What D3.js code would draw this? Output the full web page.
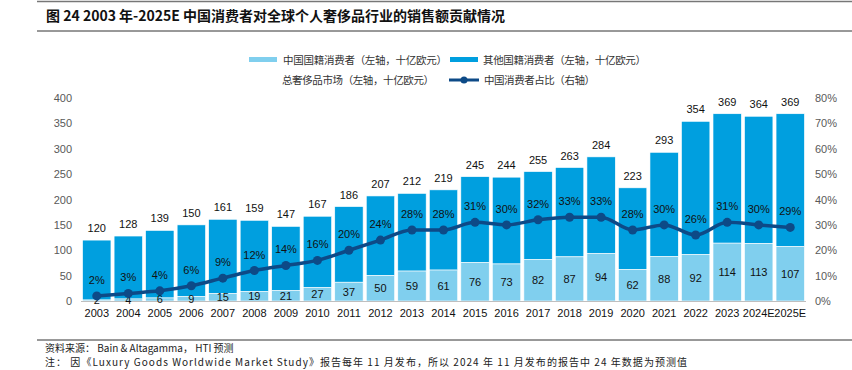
<!DOCTYPE html>
<html>
<head>
<meta charset="utf-8">
<script src="https://cdn.jsdelivr.net/npm/d3@7"></script>
<style>
  body { margin: 0; background: #fff; }
  svg { display: block; }
</style>
</head>
<body>
<svg id="chart" width="852" height="370"></svg>
<script>
// donnees
const annees = ["2003","2004","2005","2006","2007","2008","2009","2010","2011","2012","2013","2014","2015","2016","2017","2018","2019","2020","2021","2022","2023","2024E","2025E"];
const chinois = [2,4,6,9,15,19,21,27,37,50,59,61,76,73,82,87,94,62,88,92,114,113,107];
const total = [120,128,139,150,161,159,147,167,186,207,212,219,245,244,255,263,284,223,293,354,369,364,369];
const partChine = [2,3,4,6,9,12,14,16,20,24,28,28,31,30,32,33,33,28,30,26,31,30,29];
const ticksGauche = [0,50,100,150,200,250,300,350,400];
const ticksDroite = [0,10,20,30,40,50,60,70,80];

const C_CHINE = "#80CFEE", C_AUTRE = "#009FDF", C_LIGNE = "#0D4A87";
const FONT = "'Liberation Sans', Arial, sans-serif";
const FONT_CN = "'Noto Sans CJK SC', sans-serif";

const svg = d3.select("#chart");

// titre + filets
svg.append("line").attr("x1",37).attr("x2",852).attr("y1",1.5).attr("y2",1.5).attr("stroke","#777").attr("stroke-width",1.5);
svg.append("line").attr("x1",37).attr("x2",852).attr("y1",31).attr("y2",31).attr("stroke","#333").attr("stroke-width",1);
svg.append("text").attr("x",46).attr("y",21)
  .attr("font-family",FONT_CN).attr("font-weight","bold").attr("font-size",14).attr("fill","#111")
  .text("图 24 2003 年-2025E 中国消费者对全球个人奢侈品行业的销售额贡献情况");

// echelles
const x = d3.scaleBand().domain(annees).range([81, 806]).paddingInner(0.1).paddingOuter(0.05);
const yG = d3.scaleLinear().domain([0, 400]).range([301, 98]);
const yD = d3.scaleLinear().domain([0, 80]).range([301, 98]);

// axe gauche
const axeG = svg.append("g").attr("transform","translate(76,0)")
  .call(d3.axisLeft(yG).tickValues(ticksGauche).tickSize(0).tickPadding(4));
axeG.select(".domain").remove();
axeG.selectAll("text").attr("font-family",FONT).attr("font-size",11).attr("fill","#595959");

// axe droit
const axeD = svg.append("g").attr("transform","translate(811,0)")
  .call(d3.axisRight(yD).tickValues(ticksDroite).tickSize(0).tickPadding(4).tickFormat(d => d + "%"));
axeD.select(".domain").remove();
axeD.selectAll("text").attr("font-family",FONT).attr("font-size",11).attr("fill","#595959");

// barres empilees
const g = svg.append("g");
annees.forEach((a, i) => {
  g.append("rect")
    .attr("x", x(a)).attr("width", x.bandwidth())
    .attr("y", yG(total[i])).attr("height", yG(chinois[i]) - yG(total[i]))
    .attr("fill", C_AUTRE).attr("stroke","#fff").attr("stroke-width",0.6);
  g.append("rect")
    .attr("x", x(a)).attr("width", x.bandwidth())
    .attr("y", yG(chinois[i])).attr("height", yG(0) - yG(chinois[i]))
    .attr("fill", C_CHINE).attr("stroke","#fff").attr("stroke-width",0.6);
});

// axe du bas
svg.append("line").attr("x1",81).attr("x2",806).attr("y1",301.5).attr("y2",301.5).attr("stroke","#bfbfbf");
const axeB = svg.append("g").attr("transform","translate(0,301)")
  .call(d3.axisBottom(x).tickSize(0).tickPadding(8));
axeB.select(".domain").remove();
axeB.selectAll("text").attr("font-family",FONT).attr("font-size",11).attr("fill","#111");

// etiquettes des barres
const cx = a => x(a) + x.bandwidth() / 2;
svg.append("g").selectAll("text").data(annees).join("text")
  .attr("x", cx).attr("y", (a, i) => yG(total[i]) - 8)
  .attr("text-anchor","middle").attr("font-family",FONT).attr("font-size",11).attr("fill","#111")
  .text((a, i) => total[i]);
svg.append("g").selectAll("text").data(annees).join("text")
  .attr("x", cx).attr("y", (a, i) => (yG(chinois[i]) + yG(0)) / 2 + 4)
  .attr("text-anchor","middle").attr("font-family",FONT).attr("font-size",11).attr("fill","#111")
  .text((a, i) => chinois[i]);

// ligne part chinoise
const ligne = d3.line().x((d, i) => cx(annees[i])).y(d => yD(d)).curve(d3.curveMonotoneX);
svg.append("path").datum(partChine).attr("d", ligne)
  .attr("fill","none").attr("stroke",C_LIGNE).attr("stroke-width",3.5);
svg.append("g").selectAll("circle").data(partChine).join("circle")
  .attr("cx", (d, i) => cx(annees[i])).attr("cy", d => yD(d)).attr("r", 4.5).attr("fill", C_LIGNE);
svg.append("g").selectAll("text").data(partChine).join("text")
  .attr("x", (d, i) => cx(annees[i])).attr("y", d => yD(d) - 12)
  .attr("text-anchor","middle").attr("font-family",FONT).attr("font-size",11).attr("fill","#111")
  .text(d => d + "%");

// legende
const leg = svg.append("g").attr("font-family",FONT_CN).attr("font-size",10.5).attr("fill","#333");
leg.append("rect").attr("x",249).attr("y",57).attr("width",28).attr("height",5).attr("fill",C_CHINE);
leg.append("text").attr("x",283).attr("y",64).attr("textLength",164).text("中国国籍消费者（左轴，十亿欧元）");
leg.append("rect").attr("x",450).attr("y",57).attr("width",28).attr("height",5).attr("fill",C_AUTRE);
leg.append("text").attr("x",483).attr("y",64).attr("textLength",163).text("其他国籍消费者（左轴，十亿欧元）");
leg.append("text").attr("x",282).attr("y",84).attr("textLength",152).text("总奢侈品市场（左轴，十亿欧元）");
leg.append("line").attr("x1",449).attr("x2",479).attr("y1",80).attr("y2",80).attr("stroke",C_LIGNE).attr("stroke-width",3);
leg.append("circle").attr("cx",464).attr("cy",80).attr("r",3.5).attr("fill",C_LIGNE);
leg.append("text").attr("x",484).attr("y",84).attr("textLength",111).text("中国消费者占比（右轴）");

// source
svg.append("line").attr("x1",37).attr("x2",852).attr("y1",340).attr("y2",340).attr("stroke","#333").attr("stroke-width",1);
const src = svg.append("g").attr("font-family",FONT_CN).attr("font-size",10).attr("fill","#222");
src.append("text").attr("x",45).attr("y",352).text("资料来源：  Bain & Altagamma，  HTI 预测");
src.append("text").attr("x",45).attr("y",365.5).attr("textLength",642).text("注：  因《Luxury Goods Worldwide Market Study》报告每年 11 月发布，所以 2024 年 11 月发布的报告中 24 年数据为预测值");
</script>
</body>
</html>
